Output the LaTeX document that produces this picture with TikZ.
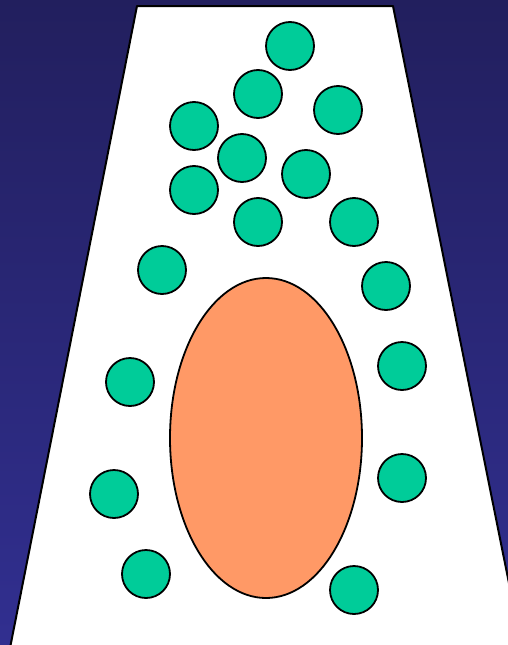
\documentclass[tikz,border=0pt]{standalone}
\usetikzlibrary{calc}
\definecolor{cellNavyTop}{HTML}{221F5E}
\definecolor{cellNavyBot}{HTML}{312F90}
\definecolor{cellGreen}{HTML}{00CC99}
\definecolor{cellOrange}{HTML}{FF9966}
\begin{document}
\begin{tikzpicture}[x=1pt,y=-1pt,line cap=round,line join=round]
\useasboundingbox (0,0) rectangle (508,645);
\shade[top color=cellNavyTop,bottom color=cellNavyBot] (0,0) rectangle (508,645);
\tikzset{wall/.style={draw=black,fill=white,line width=2pt},blob/.style={draw=black,fill=cellGreen,line width=1.8pt},core/.style={draw=black,fill=cellOrange,line width=1.8pt}}
\path[wall] (10,648) -- (137,6) -- (393,6) -- (522,648);
\foreach \cx/\cy in {290/46,258/94,338/110,194/126,242/158,306/174,194/190,258/222,354/222,162/270,386/286,402/366,130/382,402/478,114/494,146/574,354/590}
  \path[blob] (\cx,\cy) circle (24);
\path[core] (266,438) ellipse (96 and 160);
\end{tikzpicture}
\end{document}
